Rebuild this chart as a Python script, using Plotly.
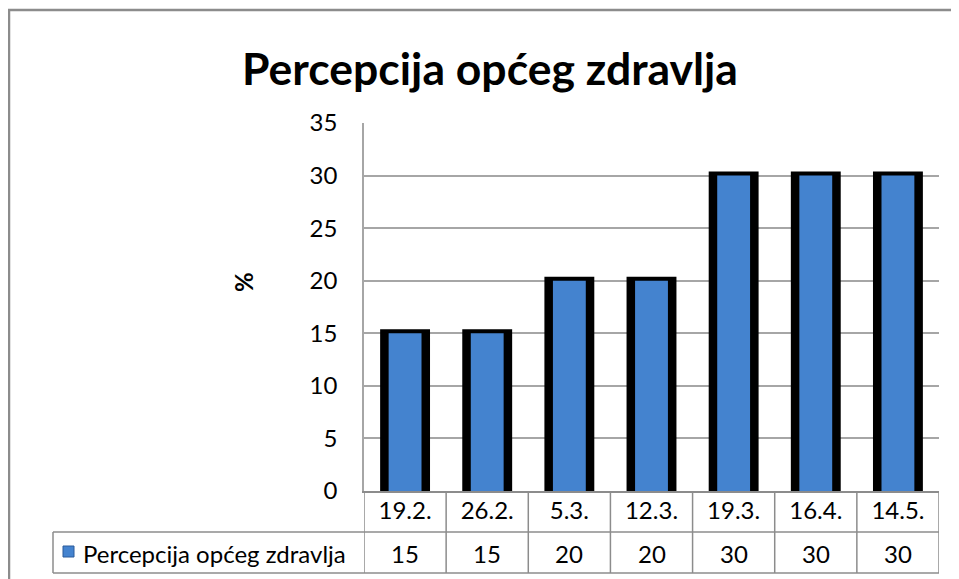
import plotly.graph_objects as go

categories = ["19.2.", "26.2.", "5.3.", "12.3.", "19.3.", "16.4.", "14.5."]
values = [15, 15, 20, 20, 30, 30, 30]
series_name = "Percepcija općeg zdravlja"
title_text = "Percepcija općeg zdravlja"
y_title = "%"
y_ticks = [0, 5, 10, 15, 20, 25, 30, 35]

FONT = "Lato, 'Open Sans', sans-serif"
GRID = "#a6a6a6"
TBL = "#8c8c8c"
OFF = 8  # page body margin

W, H = 959 - OFF, 579 - OFF
L, R, T, B = 364 - OFF, 20, 123 - OFF, 88
pw, ph = W - L - R, H - T - B

def px_x(x):
    return (x - OFF - L) / pw

def px_y(y):
    return (H - B - (y - OFF)) / ph

fig = go.Figure()
fig.add_trace(go.Bar(x=categories, y=values, width=0.51,
                     marker=dict(color="black", line=dict(color="black", width=8)),
                     hoverinfo="skip", showlegend=False))
fig.add_trace(go.Bar(x=categories, y=values, width=0.40, name=series_name,
                     marker=dict(color="#4483cf", line=dict(width=0)),
                     showlegend=False))

shapes = []
shapes.append(dict(type="rect", xref="paper", yref="paper",
                   x0=px_x(9), x1=px_x(975), y0=px_y(600), y1=px_y(10),
                   line=dict(color="#8c8c8c", width=2.5), layer="below"))
n = len(categories)
y_row1 = px_y(532)
y_row2 = px_y(573)
for i in range(n + 1):
    shapes.append(dict(type="line", xref="x", yref="paper", x0=i - 0.5, x1=i - 0.5,
                       y0=0, y1=y_row2, line=dict(color=TBL, width=1.5)))
shapes.append(dict(type="line", xref="paper", yref="paper", x0=px_x(53), x1=1,
                   y0=y_row1, y1=y_row1, line=dict(color=TBL, width=1.5)))
shapes.append(dict(type="line", xref="paper", yref="paper", x0=px_x(53), x1=1,
                   y0=y_row2, y1=y_row2, line=dict(color=TBL, width=1.5)))
shapes.append(dict(type="line", xref="paper", yref="paper", x0=px_x(53), x1=px_x(53),
                   y0=y_row1, y1=y_row2, line=dict(color=TBL, width=1.5)))
shapes.append(dict(type="rect", xref="paper", yref="paper", x0=px_x(63), x1=px_x(74),
                   y0=px_y(557), y1=px_y(546), fillcolor="#4483cf",
                   line=dict(color="#2a5a9a", width=1)))

FS = 24
annotations = []
for c, v in zip(categories, values):
    annotations.append(dict(x=c, y=px_y(553), xref="x", yref="paper", text=str(v),
                            showarrow=False, font=dict(family=FONT, size=FS, color="black"),
                            xanchor="center", yanchor="middle"))
annotations.append(dict(x=px_x(81), y=px_y(553), xref="paper", yref="paper", text=series_name,
                        showarrow=False, font=dict(family=FONT, size=FS, color="black"),
                        xanchor="left", yanchor="middle"))
annotations.append(dict(x=px_x(243), y=px_y(282), xref="paper", yref="paper", text="<b>" + y_title + "</b>",
                        showarrow=False, textangle=-90, font=dict(family=FONT, size=FS, color="black"),
                        xanchor="center", yanchor="middle"))

fig.update_layout(
    width=W, height=H,
    margin=dict(l=L, r=R, t=T, b=B),
    paper_bgcolor="white", plot_bgcolor="white",
    barmode="overlay",
    title=dict(text="<b>" + title_text + "</b>", x=(490 - OFF) / W, xanchor="center",
               y=1 - (69 - OFF) / H, yanchor="middle",
               font=dict(family=FONT, size=44.5, color="black")),
    xaxis=dict(type="category", showgrid=False, showline=True, linecolor=TBL, linewidth=1.5,
               ticks="", tickfont=dict(family=FONT, size=FS, color="black"),
               ticklabelstandoff=-3, range=[-0.5, n - 0.5], fixedrange=True),
    yaxis=dict(range=[0, 35], tickvals=y_ticks, showgrid=True, gridcolor=GRID, gridwidth=1.5,
               showline=True, linecolor=GRID, linewidth=1.5, ticks="",
               tickfont=dict(family=FONT, size=FS, color="black"),
               ticklabelstandoff=20, zeroline=False),
    shapes=shapes,
    annotations=annotations,
    showlegend=False,
)

fig.write_html("out.html")
